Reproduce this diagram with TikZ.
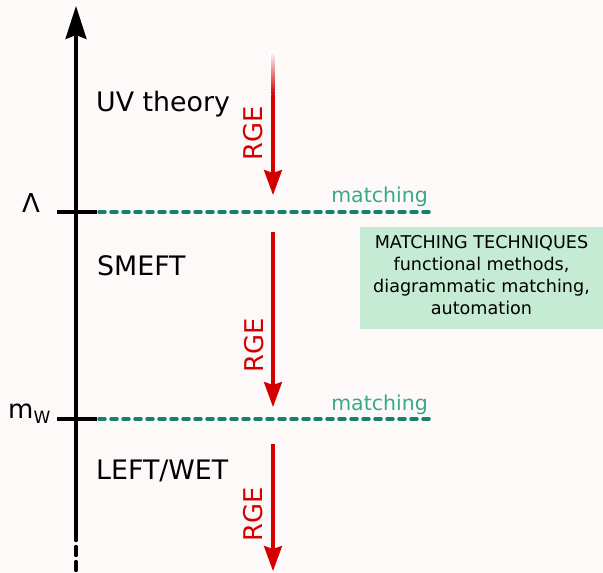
\documentclass[tikz,border=0pt]{standalone}
\usepackage{fontspec}
\setmainfont{DejaVu Sans}
\usetikzlibrary{arrows.meta}
\definecolor{bgpaper}{RGB}{253,249,248}
\definecolor{rgered}{RGB}{212,0,0}
\definecolor{matchline}{RGB}{22,128,106}
\definecolor{matchtext}{RGB}{58,168,140}
\definecolor{techgreen}{RGB}{197,235,212}
\begin{document}
\begin{tikzpicture}[x=1bp,y=-1bp,
  scalelabel/.style={font=\fontsize{26bp}{30bp}\selectfont,inner sep=0pt},
  theory/.style={font=\fontsize{26.8bp}{30bp}\selectfont,inner sep=0pt,anchor=base west},
  rgelabel/.style={font=\fontsize{25.8bp}{30bp}\selectfont,text=rgered,rotate=90,anchor=base,inner sep=0pt},
  matchlabel/.style={font=\fontsize{20.5bp}{24bp}\selectfont,text=matchtext,anchor=base east,inner sep=0pt},
  threshold/.style={draw=matchline,line width=3.5bp,line cap=round,dash pattern=on 6bp off 6bp},
  scaletick/.style={draw=black,line width=3.5bp},
  scaleaxis/.style={draw=black,line width=3.2bp},
  rgerun/.style={draw=rgered,line width=3.2bp,-{Stealth[length=25bp,width=18bp,inset=3bp]}},
  techbox/.style={fill=techgreen,minimum width=243bp,minimum height=102bp,align=center,
    font=\fontsize{17.6bp}{22bp}\selectfont,inner sep=0pt}
]
\fill[bgpaper] (0,0) rectangle (603,573);
\useasboundingbox (0,0) rectangle (603,573);
\coordinate (axbot) at (76,573);
\coordinate (axcut) at (76,531.5);
\coordinate (axtop) at (76,6);
\draw[scaleaxis,-{Stealth[length=33bp,width=21bp,inset=4bp]}] (axcut) -- (axtop);
\draw[scaleaxis,line cap=round,dash pattern=on 9bp off 6bp] (axcut) -- (axbot);
\coordinate (lamL) at (57,212);
\coordinate (lamR) at (97,212);
\coordinate (lamE) at (430,212);
\coordinate (mwL) at (57,419);
\coordinate (mwR) at (97,419);
\coordinate (mwE) at (430,419);
\draw[threshold] ([xshift=2bp]lamR) -- (lamE);
\draw[threshold] ([xshift=2bp]mwR) -- (mwE);
\draw[scaletick] (lamL) -- (lamR);
\draw[scaletick] (mwL) -- (mwR);
\node[scalelabel,anchor=base] (lambda) at (31,212) {Λ};
\node[scalelabel,anchor=base west] (mw) at (8,418) {m\raisebox{-5bp}{\fontsize{17bp}{20bp}\selectfont W}};
\node[theory] (uv) at (96,112) {UV theory};
\node[theory] (smeft) at (97,275) {SMEFT};
\node[theory] (left) at (96,479) {LEFT/WET};
\node[matchlabel] (match1) at (428,202) {matching};
\node[matchlabel] (match2) at (428,410) {matching};
\coordinate (run1fade) at (273,51);
\coordinate (run1a) at (273,95);
\coordinate (run1b) at (273,195);
\coordinate (run2a) at (273,232);
\coordinate (run2b) at (273,407);
\coordinate (run3a) at (273,444);
\coordinate (run3b) at (273,571);
\fill[white] ([xshift=-4.5bp]run1fade) rectangle ([xshift=4.5bp,yshift=-15bp]run1fade);
\shade[top color=white,bottom color=rgered] ([xshift=-1.6bp]run1fade) rectangle ([xshift=1.6bp,yshift=0.5bp]run1a);
\draw[rgerun] (run1a) -- (run1b);
\draw[rgerun] (run2a) -- (run2b);
\draw[rgerun] (run3a) -- (run3b);
\node[rgelabel] (rge1) at (262,133.5) {RGE};
\node[rgelabel] (rge2) at (263,345) {RGE};
\node[rgelabel] (rge3) at (262,514.5) {RGE};
\node[techbox] (tech) at (481.5,278) {MATCHING TECHNIQUES\\functional methods,\\diagrammatic matching,\\automation\rule[-7bp]{0pt}{7bp}};
\end{tikzpicture}
\end{document}
